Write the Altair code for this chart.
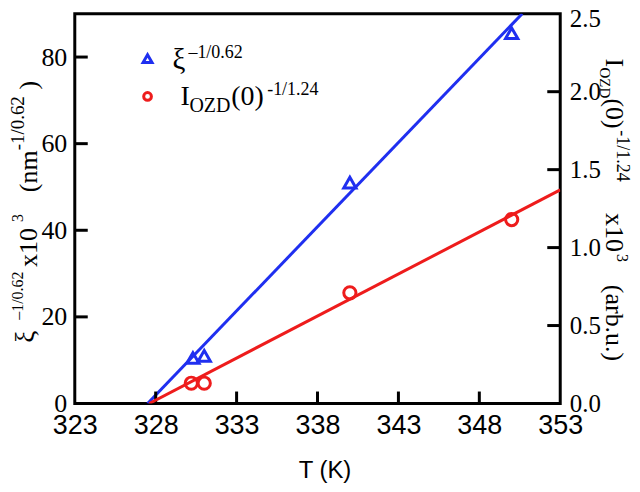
import altair as alt
import pandas as pd

# ---- data ----
T_xi = [330.3, 331.0, 340.0, 350.0]
xi_vals = [10.5, 11.0, 51.0, 85.5]
T_I = [330.2, 331.0, 340.0, 350.0]
I_vals = [0.13, 0.13, 0.71, 1.18]
T_xi_fit = [327.5, 350.65]
xi_fit = [0.0, 90.0]
T_I_fit = [327.6, 353.0]
I_fit = [0.0, 1.37]
x_tick_values = [323, 328, 333, 338, 343, 348, 353]
left_tick_values = [0, 20, 40, 60, 80]
right_tick_values = [0.0, 0.5, 1.0, 1.5, 2.0, 2.5]
x_inner_ticks = [328, 333, 338, 343, 348]
left_inner_ticks = [20, 40, 60, 80]
right_inner_ticks = [0.5, 1.0, 1.5, 2.0]

W, H = 487, 391
BLUE = "#1f2ff0"
RED = "#ee1c1c"
SERIF = "Liberation Serif"
SANS = "Liberation Sans"

xsc = alt.Scale(domain=[323, 353], nice=False, zero=False)
ysL = alt.Scale(domain=[0, 90], nice=False)
ysR = alt.Scale(domain=[0, 2.5], nice=False)

x_axis = alt.Axis(values=x_tick_values, title=None, labelFont=SANS, labelFontSize=27,
                  labelPadding=9, labelFlush=False, labelOverlap=False, format="d")
left_axis = alt.Axis(values=left_tick_values, title=None, orient="left", labelFont=SERIF,
                     labelFontSize=26, labelPadding=8, labelFlush=False, labelOverlap=False, format="d")
right_axis = alt.Axis(values=right_tick_values, title=None, orient="right", labelFont=SERIF,
                      labelFontSize=25, labelPadding=9, labelFlush=False, labelOverlap=False,
                      format=".1f",
                      labelOffset=alt.condition("datum.value >= 2.5", alt.value(5), alt.value(0)))

df_xi = pd.DataFrame({"T": T_xi, "v": xi_vals})
df_I = pd.DataFrame({"T": T_I, "v": I_vals})
df_xi_fit = pd.DataFrame({"T": T_xi_fit, "v": xi_fit})
df_I_fit = pd.DataFrame({"T": T_I_fit, "v": I_fit})
df_xt = pd.DataFrame({"T": x_inner_ticks})
df_lt = pd.DataFrame({"v": left_inner_ticks})
df_rt = pd.DataFrame({"v": right_inner_ticks})

X = lambda: alt.X("T:Q", scale=xsc, axis=x_axis)

blue_line = alt.Chart(df_xi_fit).mark_line(color=BLUE, strokeWidth=3, clip=True).encode(
    x=X(), y=alt.Y("v:Q", scale=ysL, axis=left_axis))
blue_pts = alt.Chart(df_xi).mark_point(shape="triangle-up", filled=False, color=BLUE,
                                       strokeWidth=3, size=150, opacity=1).encode(
    x=X(), y=alt.Y("v:Q", scale=ysL, axis=left_axis))
x_ticks = alt.Chart(df_xt).mark_rule(color="black", strokeWidth=3).encode(
    x=X(), y=alt.value(H - 12), y2=alt.value(H))
left_ticks = alt.Chart(df_lt).mark_rule(color="black", strokeWidth=3).encode(
    y=alt.Y("v:Q", scale=ysL, axis=left_axis), x=alt.value(0), x2=alt.value(13))

red_line = alt.Chart(df_I_fit).mark_line(color=RED, strokeWidth=3, clip=True).encode(
    x=X(), y=alt.Y("v:Q", scale=ysR, axis=right_axis))
red_pts = alt.Chart(df_I).mark_point(shape="circle", filled=False, color=RED,
                                     strokeWidth=3, size=150, opacity=1).encode(
    x=X(), y=alt.Y("v:Q", scale=ysR, axis=right_axis))
right_ticks = alt.Chart(df_rt).mark_rule(color="black", strokeWidth=3).encode(
    y=alt.Y("v:Q", scale=ysR, axis=right_axis), x=alt.value(W - 13), x2=alt.value(W))

left_group = alt.layer(blue_line, blue_pts, x_ticks, left_ticks)
right_group = alt.layer(red_line, red_pts, right_ticks)


def txt(s, x, y, size, angle=0, font=SERIF, align="left"):
    return alt.Chart(alt.Data(values=[{}])).mark_text(
        text=s, fontSize=size, font=font, angle=angle, align=align,
        baseline="alphabetic", color="black").encode(x=alt.value(x), y=alt.value(y))


def sym(shape, color, x, y, size):
    return alt.Chart(alt.Data(values=[{}])).mark_point(
        shape=shape, filled=False, color=color, strokeWidth=3, size=size, opacity=1).encode(
        x=alt.value(x), y=alt.value(y))


texts = [
    # legend
    sym("triangle-up", BLUE, 73, 45, 80),
    sym("circle", RED, 73, 83, 60),
    txt("ξ", 98, 55, 29),
    txt("–1/0.62", 114, 44, 18),
    txt("I", 106, 92, 28),
    txt("OZD", 115, 99, 20),
    txt("(0)", 157, 92, 28),
    txt("-1/1.24", 193, 82, 18),
    # x title
    txt("T (K)", 251, 466, 24, font=SANS, align="center"),
    # left title (reads upward)
    txt("ξ", -41, 330, 27, angle=270),
    txt("–1/0.62", -52, 307, 16, angle=270),
    txt("x10", -38, 254, 26, angle=270),
    txt("3", -52, 209, 16, angle=270),
    txt("(nm", -38, 179, 26, angle=270),
    txt("-1/0.62", -51, 137, 19, angle=270),
    txt(")", -38, 76, 26, angle=270),
    # right title (reads downward)
    txt("I", 533, 45, 26, angle=90),
    txt("OZD", 527, 54, 15, angle=90),
    txt("(0)", 533, 85, 26, angle=90),
    txt("-1/1.24", 544, 117, 18, angle=90),
    txt("x10", 533, 200, 26, angle=90),
    txt("3", 544, 241, 16, angle=90),
    txt("(arb.u.)", 533, 272, 26, angle=90),
]

chart = alt.layer(left_group, right_group, *texts).resolve_scale(y="independent").properties(
    width=W, height=H,
    padding={"left": 67, "top": 5, "right": 72, "bottom": 79},
    autosize=alt.AutoSizeParams(type="none"),
).configure_view(stroke="black", strokeWidth=3).configure_axis(
    domain=False, grid=False, ticks=False, labelColor="black")

chart.save("out.html", embed_options={"renderer": "svg", "actions": False})
